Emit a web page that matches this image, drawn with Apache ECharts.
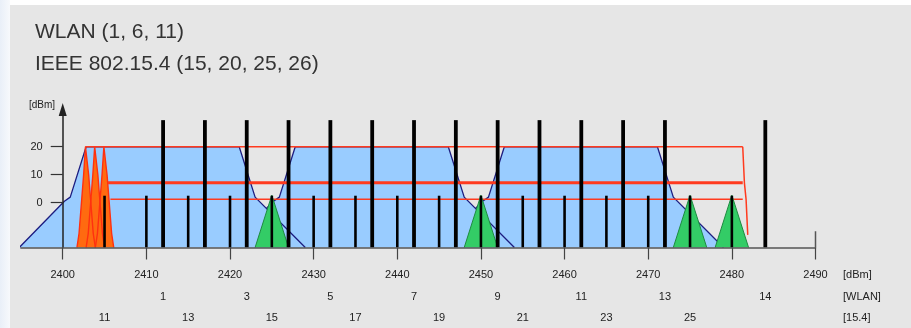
<!DOCTYPE html>
<html>
<head>
<meta charset="utf-8">
<script src="https://cdn.jsdelivr.net/npm/echarts@6/dist/echarts.min.js"></script>
<style>
  html, body { margin: 0; padding: 0; background: #fff; }
  #wrap { position: relative; width: 911px; height: 328px;
          background: linear-gradient(90deg, #e9eff8 0, #f7f9fc 10px, #ffffff 10px); }
  #panel { position: absolute; left: 10px; top: 5px; right: 0; bottom: 0; background: #e6e6e6; }
  #chart { position: absolute; left: 0; top: 0; width: 911px; height: 328px; }
</style>
</head>
<body>
<div id="wrap"><div id="panel"></div><div id="chart"></div></div>
<script>
// ---- frequency axis (MHz) ----
const freqOrigin = 2400;               // the level axis stands on this frequency
const freqMin = 2395;
const freqMax = 2490;
const freqTicks = [2400, 2410, 2420, 2430, 2440, 2450, 2460, 2470, 2480, 2490];

// ---- level axis (dBm) ----
const levelMin = -16;
const levelMax = 33.3;
const levelTicks = [0, 10, 20];

// ---- WLAN channels ----
const wlanChannels = [1, 2, 3, 4, 5, 6, 7, 8, 9, 10, 11, 12, 13, 14];
const wlanCenters  = [2412, 2417, 2422, 2427, 2432, 2437, 2442, 2447, 2452, 2457, 2462, 2467, 2472, 2484];
const wlanCarrierLevel = 29.5;
const wlanLabelled = [1, 3, 5, 7, 9, 11, 13, 14];
const wlanUsed = [1, 6, 11];
// spectral mask of one WLAN channel: offset from centre (MHz) and level (dBm)
const maskOffsets = [-17.2, -11.8, -11.1, -9.2, 9.1, 11, 17];
const maskLevels  = [-16, 0.5, 2, 20, 20, 2, -16];

// ---- IEEE 802.15.4 channels ----
const zbChannels = [11, 12, 13, 14, 15, 16, 17, 18, 19, 20, 21, 22, 23, 24, 25, 26];
const zbCenters  = [2405, 2410, 2415, 2420, 2425, 2430, 2435, 2440, 2445, 2450, 2455, 2460, 2465, 2470, 2475, 2480];
const zbCarrierLevel = 2.5;
const zbLabelled = [11, 13, 15, 17, 19, 21, 23, 25];
const zbUsed = [15, 20, 25, 26];
const zbOffsets = [-2, 0, 2];
const zbLevels  = [-16, 2.7, -16];

// ---- narrow interferer peaks ----
const peakCenters = [2402.8, 2403.9, 2405.0];
const peakOffsets = [-1.1, -0.85, -0.3, -0.08, 0.08, 0.3, 0.85, 1.1];
const peakLevels  = [-16, -11, 10, 20, 20, 10, -11, -16];

// ---- limit lines ----
const limitLevels = [20, 7.1, 1.2];
const limitStarts = [2402.7, 2405.4, 2405.7];
const limitEnd = 2481.3;
const limitEdgeFreqs  = [2481.3, 2481.5, 2481.7, 2481.9];
const limitEdgeLevels = [20, 7.1, 1.2, -11.5];

// ---- axis end mark ----
const endMarkTop = -10.2;

// ---------------------------------------------------------------
const GRID = { left: 20.9, right: 95.5, top: 109.5, bottom: 80.5 };
const CHART_W = 911;
const plotW = CHART_W - GRID.left - GRID.right;
// shift the level axis from the plot's left edge onto freqOrigin
const levelAxisOffset = -(freqOrigin - freqMin) / (freqMax - freqMin) * plotW;

const shapeAt = (c, offs, lv) => offs.map((o, i) => [c + o, lv[i]]);
const FONT = '"Liberation Sans", Arial, sans-serif';

const series = [];
let layer = 3;   // stacking order: every series gets its own z

// WLAN masks: channel 11 first so channel 1 ends up on top
wlanUsed.slice().reverse().forEach(ch => {
  const c = wlanCenters[wlanChannels.indexOf(ch)];
  series.push({
    type: 'line', z: layer++, data: shapeAt(c, maskOffsets, maskLevels),
    symbol: 'none', silent: true, animation: false,
    lineStyle: { color: '#1d1d80', width: 1.3 },
    areaStyle: { color: '#99ccff', opacity: 1, origin: 'start' }
  });
});

// narrow orange peaks
peakCenters.forEach(c => {
  series.push({
    type: 'line', z: layer, data: shapeAt(c, peakOffsets, peakLevels),
    symbol: 'none', silent: true, animation: false,
    lineStyle: { color: '#ff3010', width: 1.4 },
    areaStyle: { color: '#ff6a10', opacity: 1, origin: 'start' }
  });
});
layer++;

// limit lines
const limitWidths = [1.5, 3, 1.5];
limitLevels.forEach((lv, i) => {
  series.push({
    type: 'line', z: layer, data: [[limitStarts[i], lv], [limitEnd, lv]],
    symbol: 'none', silent: true, animation: false,
    lineStyle: { color: '#ff3a1e', width: limitWidths[i] }
  });
});
series.push({
  type: 'line', z: layer, data: limitEdgeFreqs.map((f, i) => [f, limitEdgeLevels[i]]),
  symbol: 'none', silent: true, animation: false,
  lineStyle: { color: '#ff3a1e', width: 1.5 }
});
layer++;

// used 802.15.4 channels
zbUsed.forEach(ch => {
  const c = zbCenters[zbChannels.indexOf(ch)];
  series.push({
    type: 'line', z: layer, data: shapeAt(c, zbOffsets, zbLevels),
    symbol: 'none', silent: true, animation: false,
    lineStyle: { color: '#1e8a40', width: 1 },
    areaStyle: { color: '#33cc66', opacity: 1, origin: 'start' }
  });
});
layer++;

// carriers drawn as vertical bars from the axis floor
const barRenderer = w => (params, api) => {
  const base = api.coord([api.value(0), levelMin]);
  const top = api.coord([api.value(0), api.value(1)]);
  return { type: 'rect',
    shape: { x: base[0] - w / 2, y: top[1], width: w, height: base[1] - top[1] },
    style: { fill: '#000' } };
};
series.push({
  type: 'custom', z: layer, silent: true, animation: false,
  data: zbCenters.map(c => [c, zbCarrierLevel]),
  encode: { x: 0, y: 1 }, renderItem: barRenderer(2.6)
});
series.push({
  type: 'custom', z: layer, silent: true, animation: false,
  data: wlanCenters.map(c => [c, wlanCarrierLevel]),
  encode: { x: 0, y: 1 }, renderItem: barRenderer(3.8)
});

// upward mark at the end of the frequency axis
series.push({
  type: 'line', z: layer, data: [[freqMax, levelMin], [freqMax, endMarkTop]],
  symbol: 'none', silent: true, animation: false,
  lineStyle: { color: '#555', width: 1.5 }
});

const labelStyle = { fontFamily: FONT, fontSize: 11, color: '#222' };
const hidden = { show: false };
const channelAxis = (centers, channels, labelled, margin) => ({
  type: 'value', min: freqMin, max: freqMax, position: 'bottom',
  axisLine: { show: false, onZero: false }, axisTick: hidden, splitLine: hidden,
  axisLabel: Object.assign({
    customValues: labelled.map(ch => centers[channels.indexOf(ch)]), margin: margin,
    formatter: v => String(channels[centers.indexOf(Math.round(v))]) }, labelStyle)
});

const chart = echarts.init(document.getElementById('chart'), null, { renderer: 'canvas' });
chart.setOption({
  animation: false,
  grid: Object.assign({ outerBoundsMode: 'none', containLabel: false }, GRID),
  xAxis: [
    {
      type: 'value', min: freqMin, max: freqMax, z: 20,
      axisLine: { onZero: false, lineStyle: { color: '#555', width: 1.5 } },
      axisTick: { customValues: freqTicks, length: 12, lineStyle: { color: '#444', width: 1.2 } },
      axisLabel: Object.assign({ customValues: freqTicks, margin: 22,
        formatter: v => String(Math.round(v)) }, labelStyle),
      splitLine: hidden
    },
    channelAxis(wlanCenters, wlanChannels, wlanLabelled, 44),
    channelAxis(zbCenters, zbChannels, zbLabelled, 65)
  ],
  yAxis: {
    type: 'value', min: levelMin, max: levelMax, offset: levelAxisOffset, z: 20,
    axisLine: { onZero: false, symbol: ['none', 'triangle'], symbolSize: [8, 13],
      lineStyle: { color: '#222', width: 1.5 } },
    axisTick: { customValues: levelTicks, length: 12, lineStyle: { color: '#333', width: 1.2 } },
    axisLabel: Object.assign({ customValues: levelTicks, margin: 20 }, labelStyle),
    splitLine: hidden
  },
  graphic: [
    { type: 'text', x: 35, y: 32.5, silent: true,
      style: { text: 'WLAN (1, 6, 11)', fontFamily: FONT, fontSize: 21, fill: '#333', verticalAlign: 'middle' } },
    { type: 'text', x: 35, y: 64.2, silent: true,
      style: { text: 'IEEE 802.15.4 (15, 20, 25, 26)', fontFamily: FONT, fontSize: 21, fill: '#333', verticalAlign: 'middle' } },
    { type: 'text', x: 55, y: 105, silent: true,
      style: { text: '[dBm]', fontFamily: FONT, fontSize: 10, fill: '#222', align: 'right', verticalAlign: 'middle' } },
    { type: 'text', x: 843, y: 275, silent: true,
      style: { text: '[dBm]', fontFamily: FONT, fontSize: 11, fill: '#222', verticalAlign: 'middle' } },
    { type: 'text', x: 843, y: 296.7, silent: true,
      style: { text: '[WLAN]', fontFamily: FONT, fontSize: 11, fill: '#222', verticalAlign: 'middle' } },
    { type: 'text', x: 843, y: 318, silent: true,
      style: { text: '[15.4]', fontFamily: FONT, fontSize: 11, fill: '#222', verticalAlign: 'middle' } }
  ],
  series: series
});
</script>
</body>
</html>
